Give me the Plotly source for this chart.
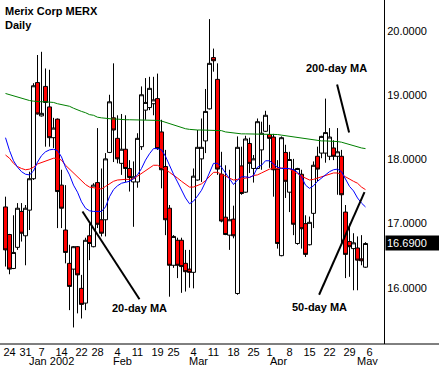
import plotly.graph_objects as go

# ---------------- data ----------------
dates = [
    "2001-12-21", "2001-12-24", "2001-12-26", "2001-12-27", "2001-12-28", "2001-12-31",
    "2002-01-02", "2002-01-03", "2002-01-04",
    "2002-01-07", "2002-01-08", "2002-01-09", "2002-01-10", "2002-01-11",
    "2002-01-14", "2002-01-15", "2002-01-16", "2002-01-17", "2002-01-18",
    "2002-01-22", "2002-01-23", "2002-01-24", "2002-01-25",
    "2002-01-28", "2002-01-29", "2002-01-30", "2002-01-31", "2002-02-01",
    "2002-02-04", "2002-02-05", "2002-02-06", "2002-02-07", "2002-02-08",
    "2002-02-11", "2002-02-12", "2002-02-13", "2002-02-14", "2002-02-15",
    "2002-02-19", "2002-02-20", "2002-02-21", "2002-02-22",
    "2002-02-25", "2002-02-26", "2002-02-27", "2002-02-28", "2002-03-01",
    "2002-03-04", "2002-03-05", "2002-03-06", "2002-03-07", "2002-03-08",
    "2002-03-11", "2002-03-12", "2002-03-13", "2002-03-14", "2002-03-15",
    "2002-03-18", "2002-03-19", "2002-03-20", "2002-03-21", "2002-03-22",
    "2002-03-25", "2002-03-26", "2002-03-27", "2002-03-28",
    "2002-04-01", "2002-04-02", "2002-04-03", "2002-04-04", "2002-04-05",
    "2002-04-08", "2002-04-09", "2002-04-10", "2002-04-11", "2002-04-12",
    "2002-04-15", "2002-04-16", "2002-04-17", "2002-04-18", "2002-04-19",
    "2002-04-22", "2002-04-23", "2002-04-24", "2002-04-25", "2002-04-26",
    "2002-04-29", "2002-04-30", "2002-05-01", "2002-05-02", "2002-05-03",
]

opens = [
    17.26, 16.83, 16.30, 16.63, 17.19, 16.81,
    17.21, 17.70, 19.20,
    18.68, 19.14, 18.82, 18.34, 18.63,
    17.60, 16.90, 16.38, 16.29, 16.64,
    15.99, 15.76, 16.81, 16.64,
    17.64, 17.06, 17.06, 18.11, 18.65,
    18.33, 17.94, 18.16, 17.86, 17.65,
    17.65, 18.20, 18.77, 18.81, 18.87,
    18.95, 18.43, 17.89, 17.24,
    16.35, 16.74, 16.74, 16.38, 16.29,
    16.24, 17.68, 18.01, 18.29, 18.79,
    19.59, 19.25, 17.77, 17.10, 16.82,
    17.07, 15.91, 17.90, 17.49, 18.25,
    17.86, 17.86, 18.15, 18.44,
    18.39, 18.35, 17.85, 16.50, 18.11,
    17.49, 17.84, 16.69, 17.77, 17.00,
    16.67, 17.16, 18.05, 18.10, 18.10,
    18.05, 18.18, 18.05, 18.05, 17.18,
    16.72, 16.61, 16.62, 16.45, 16.32,
]
highs = [
    17.42, 16.84, 17.13, 17.32, 17.32, 17.29,
    17.81, 19.19, 19.63,
    19.68, 19.42, 19.40, 18.65, 18.64,
    17.84, 17.60, 16.67, 16.65, 16.65,
    16.20, 16.78, 17.00, 17.63,
    18.49, 17.86, 18.10, 19.01, 19.50,
    18.69, 18.71, 18.69, 17.99, 17.97,
    18.41, 19.14, 19.27, 19.29, 19.29,
    19.34, 18.62, 18.15, 17.29,
    16.82, 16.78, 16.78, 16.59, 16.59,
    17.86, 18.46, 18.64, 19.10, 20.19,
    19.73, 19.50, 18.12, 17.91, 17.84,
    17.28, 18.36, 18.20, 18.37, 18.34,
    18.07, 18.64, 18.59, 18.76,
    18.54, 18.40, 17.99, 18.36, 18.23,
    18.12, 18.01, 17.87, 17.84, 17.13,
    17.11, 17.97, 18.20, 18.37, 18.95,
    18.49, 18.30, 18.49, 18.15, 17.29,
    17.00, 16.85, 16.80, 16.82, 16.71,
]
lows = [
    16.33, 16.21, 16.29, 16.59, 16.72, 16.35,
    16.90, 17.68, 18.70,
    18.67, 18.20, 18.20, 18.18, 16.93,
    16.93, 16.38, 15.65, 15.38, 15.60,
    15.52, 15.65, 16.43, 16.63,
    16.93, 16.80, 16.80, 18.10, 17.96,
    17.94, 17.76, 17.65, 17.50, 16.95,
    17.56, 18.15, 18.62, 18.77, 18.69,
    18.15, 17.55, 16.82, 15.86,
    16.31, 16.15, 15.92, 15.94, 16.00,
    15.99, 17.67, 17.65, 18.10, 18.78,
    19.37, 17.76, 17.02, 16.82, 16.59,
    16.77, 15.89, 17.45, 17.48, 17.79,
    17.64, 17.85, 17.84, 18.43,
    17.87, 17.42, 16.61, 16.49, 17.40,
    17.18, 16.82, 16.67, 16.61, 16.48,
    16.66, 16.93, 17.66, 18.02, 17.95,
    17.99, 17.99, 17.45, 16.67, 16.15,
    16.17, 15.96, 15.96, 16.35, 16.31,
]
closes = [
    16.59, 16.29, 16.55, 17.24, 16.85, 17.24,
    17.70, 19.15, 18.71,
    18.72, 18.89, 18.34, 18.49, 17.50,
    17.24, 16.55, 16.02, 16.64, 16.20,
    15.74, 16.74, 16.69, 17.60,
    16.99, 16.85, 18.01, 18.90, 18.46,
    18.01, 18.16, 17.86, 17.72, 17.73,
    18.33, 19.01, 18.89, 19.11, 18.93,
    18.17, 17.84, 17.06, 16.35,
    16.80, 16.35, 16.33, 16.25, 16.24,
    17.74, 18.19, 18.19, 18.75, 19.50,
    19.54, 17.85, 17.04, 16.83, 17.06,
    16.81, 18.19, 17.47, 18.32, 17.94,
    18.01, 18.59, 18.41, 18.69,
    18.33, 17.84, 16.69, 18.34, 17.66,
    18.00, 16.99, 17.86, 16.92, 16.52,
    17.02, 17.91, 17.85, 18.36, 18.42,
    18.35, 18.05, 18.12, 17.45, 16.52,
    16.64, 16.70, 16.43, 16.42, 16.69,
]

ma20 = [
    18.34, 18.14, 17.98, 17.88, 17.81, 17.77, 17.76, 17.82, 17.96, 18.06,
    18.12, 18.15, 18.16, 18.14, 18.04, 17.88, 17.76, 17.60, 17.49, 17.34,
    17.24, 17.20, 17.19, 17.19, 17.19, 17.26, 17.42, 17.53, 17.59, 17.63,
    17.65, 17.66, 17.70, 17.76, 17.86, 17.99, 18.09, 18.17, 18.17, 18.15,
    18.05, 17.90, 17.77, 17.65, 17.52, 17.40, 17.31, 17.35, 17.43, 17.52,
    17.65, 17.81, 17.94, 17.94, 17.88, 17.79, 17.70, 17.61, 17.68, 17.73,
    17.73, 17.72, 17.75, 17.88, 17.91, 17.98, 17.98, 17.93, 17.88, 17.86,
    17.86, 17.86, 17.84, 17.80, 17.73, 17.60, 17.55, 17.59, 17.66, 17.71,
    17.77, 17.81, 17.84, 17.85, 17.81, 17.70, 17.58, 17.51, 17.40, 17.32,
    17.26,
]
ma50 = [
    18.07, 18.02, 17.94, 17.89, 17.86, 17.84, 17.85, 17.88, 17.93, 17.95,
    17.98, 18.00, 18.02, 18.02, 17.99, 17.91, 17.85, 17.79, 17.73, 17.66,
    17.61, 17.57, 17.56, 17.55, 17.54, 17.58, 17.62, 17.66, 17.68, 17.69,
    17.69, 17.69, 17.70, 17.74, 17.78, 17.83, 17.87, 17.91, 17.91, 17.88,
    17.84, 17.80, 17.76, 17.71, 17.66, 17.61, 17.57, 17.57, 17.59, 17.62,
    17.67, 17.73, 17.80, 17.80, 17.77, 17.73, 17.70, 17.68, 17.69, 17.70,
    17.71, 17.72, 17.75, 17.76, 17.79, 17.82, 17.85, 17.86, 17.86, 17.87,
    17.87, 17.85, 17.82, 17.78, 17.74, 17.71, 17.68, 17.69, 17.71, 17.72,
    17.75, 17.77, 17.79, 17.79, 17.77, 17.73, 17.69, 17.66, 17.63, 17.57,
    17.53,
]
ma200 = [
    19.03, 19.01, 18.99, 18.98, 18.95, 18.94, 18.92, 18.91, 18.90, 18.90,
    18.90, 18.90, 18.89, 18.87, 18.86, 18.85, 18.83, 18.80, 18.77, 18.75,
    18.73, 18.70, 18.69, 18.66, 18.65, 18.64, 18.64, 18.63, 18.63, 18.62,
    18.62, 18.62, 18.62, 18.62, 18.62, 18.62, 18.62, 18.62, 18.61, 18.60,
    18.58, 18.55, 18.53, 18.51, 18.50, 18.48, 18.47, 18.46, 18.46, 18.46,
    18.46, 18.46, 18.46, 18.46, 18.45, 18.43, 18.42, 18.41, 18.40, 18.40,
    18.40, 18.40, 18.40, 18.40, 18.40, 18.40, 18.39, 18.39, 18.39, 18.38,
    18.37, 18.36, 18.35, 18.34, 18.33, 18.32, 18.31, 18.30, 18.29, 18.29,
    18.29, 18.29, 18.28, 18.28, 18.27, 18.25, 18.23, 18.21, 18.20, 18.18,
    18.17,
]

axis_dates = dates + ["2002-05-06"]
tick_dates = [
    "2001-12-24", "2001-12-31", "2002-01-07", "2002-01-14", "2002-01-22",
    "2002-01-28", "2002-02-04", "2002-02-11", "2002-02-19", "2002-02-25",
    "2002-03-04", "2002-03-11", "2002-03-18", "2002-03-25", "2002-04-01",
    "2002-04-08", "2002-04-15", "2002-04-22", "2002-04-29", "2002-05-06",
]
price_ticks = [16, 17, 18, 19, 20]
last_price = 16.69

# ---------------- figure ----------------
idx = list(range(len(dates)))
tickvals = [axis_dates.index(d) for d in tick_dates]
ticktext = [str(int(d[-2:])) for d in tick_dates]

FONT = "Liberation Sans, Arial, sans-serif"

fig = go.Figure()
fig.add_trace(go.Scatter(x=idx, y=ma200, mode="lines",
                         line=dict(color="#008000", width=1), hoverinfo="skip"))
fig.add_trace(go.Scatter(x=idx, y=ma50, mode="lines",
                         line=dict(color="#FF0000", width=1), hoverinfo="skip"))
fig.add_trace(go.Scatter(x=idx, y=ma20, mode="lines",
                         line=dict(color="#0000FF", width=1), hoverinfo="skip"))
fig.add_trace(go.Candlestick(
    x=idx, open=opens, high=highs, low=lows, close=closes,
    increasing=dict(line=dict(color="black", width=1), fillcolor="white"),
    decreasing=dict(line=dict(color="black", width=1), fillcolor="#FF0000"),
    whiskerwidth=0,
))

annotations = [
    dict(text="<b>Merix Corp MERX</b>", xref="paper", yref="paper", x=0, y=1,
         xanchor="left", yanchor="top", xshift=3, yshift=-3, showarrow=False,
         font=dict(size=11, family=FONT, color="black")),
    dict(text="<b>Daily</b>", xref="paper", yref="paper", x=0, y=1,
         xanchor="left", yanchor="top", xshift=3, yshift=-17, showarrow=False,
         font=dict(size=11, family=FONT, color="black")),
    dict(text="<b>200-day MA</b>", x=82.8, y=19.43, showarrow=False,
         font=dict(size=11, family=FONT, color="black")),
    dict(text="<b>20-day MA</b>", x=33.4, y=15.69, showarrow=False,
         font=dict(size=11, family=FONT, color="black")),
    dict(text="<b>50-day MA</b>", x=78.4, y=15.70, showarrow=False,
         font=dict(size=11, family=FONT, color="black")),
    dict(text=f"{last_price:.4f}", xref="paper", x=1, y=last_price,
         xanchor="left", yanchor="middle", align="left", showarrow=False,
         bgcolor="black", width=52, height=12, borderpad=1, xshift=1,
         font=dict(size=11, family=FONT, color="white")),
]
months = [("Jan 2002", 11.5), ("Feb", 29.3), ("Mar", 48.2), ("Apr", 68.3), ("May", 90.4)]
for label, mx in months:
    annotations.append(dict(text=label, x=mx, xref="x", yref="paper", y=0,
                            yanchor="top", yshift=-9, showarrow=False,
                            font=dict(size=11, family=FONT, color="black")))

shapes = [
    dict(type="line", x0=82.9, y0=19.17, x1=85.9, y1=18.42,
         line=dict(color="black", width=2)),
    dict(type="line", x0=19.25, y0=17.19, x1=33.5, y1=15.82,
         line=dict(color="black", width=2)),
    dict(type="line", x0=78.4, y0=15.89, x1=89.75, y1=17.49,
         line=dict(color="black", width=2)),
    dict(type="line", xref="paper", yref="paper", x0=0, x1=439 / 384, y0=0, y1=0,
         line=dict(color="black", width=1)),
]

fig.update_layout(
    width=439, height=365,
    margin=dict(l=0, r=55, t=0, b=21),
    paper_bgcolor="white", plot_bgcolor="white",
    showlegend=False,
    boxgap=0, boxgroupgap=0,
    annotations=annotations,
    shapes=shapes,
    font=dict(family=FONT, size=11, color="black"),
    xaxis=dict(range=[-1.375, 94.625], tickvals=tickvals, ticktext=ticktext,
               showgrid=False, zeroline=False, showline=False, ticks="",
               rangeslider=dict(visible=False),
               tickfont=dict(size=11, family=FONT, color="black")),
    yaxis=dict(range=[15.122, 20.488], side="right", tickvals=price_ticks,
               tickformat=".4f", showgrid=False, zeroline=False,
               showline=True, linecolor="black", linewidth=1, ticks="",
               tickfont=dict(size=11, family=FONT, color="black")),
)

fig.write_html("out.html",
               config={"displayModeBar": False, "staticPlot": True},
               post_script="document.body.style.margin='0';document.body.style.overflow='hidden';")
